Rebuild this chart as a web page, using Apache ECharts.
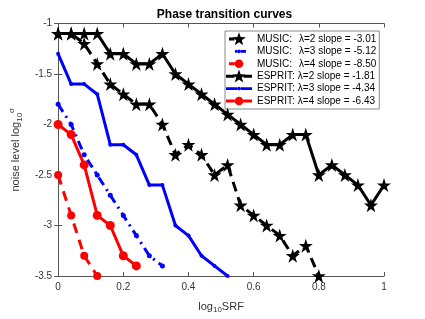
<!DOCTYPE html>
<html><head><meta charset="utf-8">
<script src="https://cdn.jsdelivr.net/npm/echarts@6/dist/echarts.min.js"></script>
<style>html,body{margin:0;padding:0;background:#fff}#c{width:425px;height:319px}</style>
</head><body><div id="c"></div>
<script>
const seriesNames = [
  ['MUSIC:', 'λ=2 slope = -3.01'],
  ['MUSIC:', 'λ=3 slope = -5.12'],
  ['MUSIC:', 'λ=4 slope = -8.50'],
  ['ESPRIT:', 'λ=2 slope = -1.81'],
  ['ESPRIT:', 'λ=3 slope = -4.34'],
  ['ESPRIT:', 'λ=4 slope = -6.43']
];
const xTicks = [0, 0.2, 0.4, 0.6, 0.8, 1];
const yTicks = [-3.5, -3, -2.5, -2, -1.5, -1];

const musicL2X = [0, 0.04, 0.08, 0.12, 0.16, 0.20, 0.24, 0.28, 0.32, 0.36, 0.40, 0.44, 0.48, 0.52, 0.56, 0.60, 0.64, 0.68, 0.72, 0.76, 0.80];
const musicL2Y = [-1.1, -1.1, -1.2, -1.4, -1.6, -1.7, -1.8, -1.8, -2.0, -2.3, -2.2, -2.3, -2.5, -2.4, -2.8, -2.9, -3.0, -3.1, -3.3, -3.2, -3.5];
const musicL3X = [0, 0.04, 0.08, 0.12, 0.16, 0.20, 0.24, 0.28, 0.32];
const musicL3Y = [-1.8, -2.0, -2.3, -2.5, -2.7, -2.9, -3.1, -3.3, -3.4];
const musicL4X = [0, 0.04, 0.08, 0.12];
const musicL4Y = [-2.5, -2.9, -3.3, -3.5];
const espritL2X = [0, 0.04, 0.08, 0.12, 0.16, 0.20, 0.24, 0.28, 0.32, 0.36, 0.40, 0.44, 0.48, 0.52, 0.56, 0.60, 0.64, 0.68, 0.72, 0.76, 0.80, 0.84, 0.88, 0.92, 0.96, 1.00];
const espritL2Y = [-1.1, -1.1, -1.1, -1.1, -1.3, -1.3, -1.4, -1.4, -1.3, -1.5, -1.6, -1.7, -1.8, -1.9, -2.0, -2.1, -2.2, -2.2, -2.1, -2.1, -2.5, -2.4, -2.5, -2.6, -2.8, -2.6];
const espritL3X = [0, 0.04, 0.08, 0.12, 0.16, 0.20, 0.24, 0.28, 0.32, 0.36, 0.40, 0.44, 0.48, 0.52];
const espritL3Y = [-1.3, -1.6, -1.6, -1.7, -2.2, -2.2, -2.3, -2.6, -2.6, -3.0, -3.1, -3.3, -3.4, -3.5];
const espritL4X = [0, 0.04, 0.08, 0.12, 0.16, 0.20, 0.24];
const espritL4Y = [-2.0, -2.1, -2.4, -2.9, -3.0, -3.3, -3.4];

const zip = (xs, ys) => xs.map((x, i) => [x, ys[i]]);
const STAR = 'path://M50,0 L61.8,36 L100,36 L69,58.5 L80.9,95 L50,72.5 L19.1,95 L31,58.5 L0,36 L38.2,36 Z';
const nm = i => seriesNames[i][0] + '|' + seriesNames[i][1];
const FF = 'Liberation Sans, Arial, sans-serif';

// legend icon helpers (26 x 14 box)
function starPath(cx, cy, R, r) {
  let s = '';
  for (let k = 0; k < 10; k++) {
    const a = (-90 + k * 36) * Math.PI / 180, rad = k % 2 ? r : R;
    s += (k ? ' L' : 'M') + (cx + rad * Math.cos(a)).toFixed(2) + ',' + (cy + rad * Math.sin(a)).toFixed(2);
  }
  return s + ' Z';
}
function circ(cx, cy, r) {
  return 'M' + (cx - r) + ',' + cy + ' A' + r + ',' + r + ' 0 1,1 ' + (cx + r) + ',' + cy +
         ' A' + r + ',' + r + ' 0 1,1 ' + (cx - r) + ',' + cy + ' Z';
}
function bar(x0, x1, h) { return 'M' + x0 + ',' + (7 - h) + ' L' + x1 + ',' + (7 - h) + ' L' + x1 + ',' + (7 + h) + ' L' + x0 + ',' + (7 + h) + ' Z'; }
const ANCH = 'M0,0 L0.02,0 L0,0.02 Z M26,14 L25.98,14 L26,13.98 Z ';
const icons = [
  'path://' + ANCH + bar(3, 8.5, 1.5) + ' ' + starPath(13, 7.4, 7.2, 2.9),
  'path://' + ANCH + bar(9, 11.2, 1.4) + ' ' + bar(14.8, 20, 1.4) + ' ' + circ(13, 7, 1.8),
  'path://' + ANCH + bar(3, 8.7, 1.5) + ' ' + circ(13, 7, 4.3),
  'path://' + ANCH + bar(0, 8.5, 1.5) + ' ' + bar(17.5, 26, 1.5) + ' ' + starPath(13, 7.4, 7.2, 2.9),
  'path://' + ANCH + bar(0, 11.2, 1.4) + ' ' + bar(14.8, 26, 1.4) + ' ' + circ(13, 7, 1.8),
  'path://' + ANCH + bar(0, 8.7, 1.5) + ' ' + bar(17.3, 26, 1.5) + ' ' + circ(13, 7, 4.3)
];

function mk(i, data, color, type, symbol, size) {
  return {
    name: nm(i), type: 'line', data: data,
    symbol: symbol, symbolSize: size, showSymbol: true,
    lineStyle: { color: color, width: 3, type: type },
    itemStyle: { color: color, borderWidth: 0 },
    emphasis: { disabled: true }, animation: false, z: 2 + i
  };
}

const chart = echarts.init(document.getElementById('c'));
const axisCol = '#555';
const lblCol = '#333';
chart.setOption({
  animation: false,
  backgroundColor: '#fff',
  title: { text: 'Phase transition curves', left: 219.5, textAlign: 'center', top: 4,
    textStyle: { fontFamily: FF, fontSize: 12, fontWeight: 'bold', color: '#000' } },
  grid: { left: 55, right: 41, top: 23.5, bottom: 37 },
  legend: {
    orient: 'vertical', left: 225, top: 31,
    itemWidth: 26, itemHeight: 14, itemGap: -1.6,
    padding: [1, 3, 1, 1],
    backgroundColor: '#fff', borderColor: '#888', borderWidth: 1,
    formatter: n => { const p = n.split('|'); return '{' + (p[0] === 'MUSIC:' ? 'm' : 'e') + '|' + p[0] + '}{b|' + p[1] + '}'; },
    textStyle: { fontFamily: FF, fontSize: 10, color: '#000',
      rich: { m: { padding: [0, 7, 0, 0], fontFamily: FF, fontSize: 10, color: '#000' },
              e: { padding: [0, 3, 0, 0], fontFamily: FF, fontSize: 10, color: '#000' },
              b: { fontFamily: FF, fontSize: 10, color: '#000' } } },
    data: seriesNames.map((_, i) => ({ name: nm(i), icon: icons[i], itemStyle: { borderWidth: 0 }, lineStyle: { width: 0 } }))
  },
  xAxis: [{
    type: 'value', min: xTicks[0], max: xTicks[xTicks.length - 1], interval: 0.2,
    name: 'log{s|10}SRF', nameLocation: 'middle', nameGap: 24,
    nameTextStyle: { fontFamily: FF, fontSize: 11, color: lblCol,
      rich: { s: { fontSize: 8, padding: [6, 0, 0, 0], color: lblCol } } },
    axisLine: { show: true, lineStyle: { color: axisCol, width: 1 } },
    axisTick: { show: true, inside: true, length: 4, lineStyle: { color: axisCol } },
    axisLabel: { fontFamily: FF, fontSize: 10, color: lblCol, margin: 6,
      formatter: v => String(v) },
    splitLine: { show: false }
  }, {
    type: 'value', position: 'top', min: 0, max: 1, interval: 0.2,
    axisLine: { show: true, lineStyle: { color: axisCol, width: 1 } },
    axisTick: { show: true, inside: true, length: 4, lineStyle: { color: axisCol } },
    axisLabel: { show: false }, splitLine: { show: false }
  }],
  yAxis: [{
    type: 'value', min: yTicks[0], max: yTicks[yTicks.length - 1], interval: 0.5,
    name: 'noise level log{s|10}{p|σ}', nameLocation: 'middle', nameGap: 27, nameRotate: 90,
    nameTextStyle: { fontFamily: FF, fontSize: 11, color: lblCol,
      rich: { s: { fontSize: 8, padding: [8, 0, 0, 0], color: lblCol },
              p: { fontSize: 8, padding: [0, 0, 8, 0], color: lblCol } } },
    axisLine: { show: true, lineStyle: { color: axisCol, width: 1 } },
    axisTick: { show: true, inside: true, length: 4, lineStyle: { color: axisCol } },
    axisLabel: { fontFamily: FF, fontSize: 10, color: lblCol, margin: 6,
      formatter: v => String(v) },
    splitLine: { show: false }
  }, {
    type: 'value', position: 'right', min: -3.5, max: -1, interval: 0.5,
    axisLine: { show: true, lineStyle: { color: axisCol, width: 1 } },
    axisTick: { show: true, inside: true, length: 4, lineStyle: { color: axisCol } },
    axisLabel: { show: false }, splitLine: { show: false }
  }],
  series: [
    mk(0, zip(musicL2X, musicL2Y), '#000', [10, 6], STAR, 14),
    mk(1, zip(musicL3X, musicL3Y), '#0000ff', [9, 5, 2, 5], 'circle', 5),
    mk(2, zip(musicL4X, musicL4Y), '#ff0000', [10, 7], 'circle', 8),
    mk(3, zip(espritL2X, espritL2Y), '#000', 'solid', STAR, 14),
    mk(4, zip(espritL3X, espritL3Y), '#0000ff', 'solid', 'circle', 4),
    mk(5, zip(espritL4X, espritL4Y), '#ff0000', 'solid', 'circle', 9)
  ]
});
</script></body></html>
